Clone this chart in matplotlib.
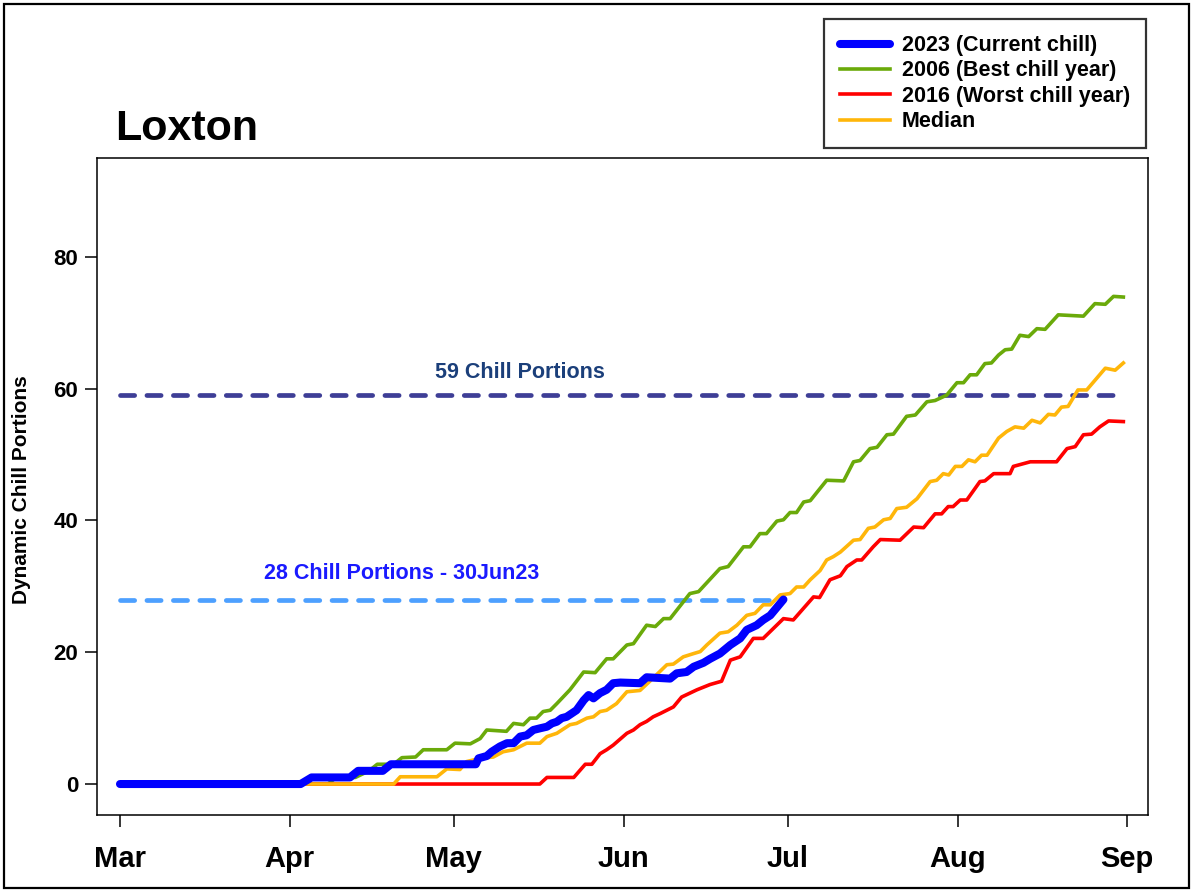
import matplotlib
matplotlib.use("Agg")
import matplotlib.pyplot as plt
from matplotlib.patches import Rectangle

plt.rcParams['font.family'] = ['Liberation Sans', 'DejaVu Sans']
plt.rcParams['font.weight'] = 'bold'

# Days since 1 March
month_days = [0, 31, 61, 92, 122, 153, 184]
month_labels = ["Mar", "Apr", "May", "Jun", "Jul", "Aug", "Sep"]
y_ticks = [0, 20, 40, 60, 80]

cur_days = [0, 33, 35, 42, 43.5, 48, 49.5, 65, 65.5, 67, 67.9, 69.4, 70.7, 71.9, 73.1, 74.3, 75.5,
            76.7, 78, 78.9, 79.8, 80.7, 81.6, 83.4, 84.7, 85.6, 86.5, 87.7, 88.9, 90.1, 91.4, 95,
            96.2, 100.5, 101.7, 103.5, 104.8, 106.6, 107.8, 109.6, 111.5, 113.3, 114.5, 116.3,
            117.5, 118.8, 121.2]
cur_vals = [0, 0, 1, 1, 2, 2, 3, 3, 3.9, 4.25, 4.9, 5.7, 6.2, 6.2, 7.2, 7.4, 8.2, 8.45, 8.7, 9.2,
            9.45, 10.0, 10.2, 11.2, 12.7, 13.5, 13.0, 13.8, 14.3, 15.3, 15.4, 15.3, 16.2, 16.0,
            16.8, 17.0, 17.8, 18.4, 19.0, 19.8, 21.1, 22.1, 23.4, 24.1, 24.9, 25.6, 28.0]

best_days = [0, 38, 39.5, 43, 44.5, 45.5, 47, 50, 51.5, 54, 55.4, 59.7, 61.2, 64.0, 65.8, 67.0,
             70.6, 71.9, 73.7, 74.9, 76.1, 77.3, 78.6, 79.8, 82.2, 84.7, 86.8, 88.9, 90.1, 92.6,
             93.8, 96.2, 97.8, 99.3, 100.5, 104.1, 105.7, 109.6, 111.1, 113.9, 115.1, 116.9,
             118.1, 120.0, 121.2, 122.4, 123.6, 124.9, 126.1, 129.1, 132.2, 134.0, 135.2, 137.0,
             138.3, 140.1, 141.3, 143.7, 145.3, 147.4, 148.9, 151.0, 152.9, 154.1, 155.3, 156.5,
             158.0, 159.2, 160.5, 161.7, 162.9, 164.4, 166.0, 167.5, 169.0, 171.4, 176.0, 178.1,
             180.0, 181.5, 183.3]
best_vals = [0, 0, 1, 1, 1.6, 2, 3, 3, 4, 4.1, 5.2, 5.2, 6.2, 6.1, 6.9, 8.2, 8.0, 9.2, 9.0, 10.0,
             10.0, 11.0, 11.2, 12.2, 14.3, 17.0, 16.9, 19.0, 19.0, 21.1, 21.3, 24.1, 23.9, 25.1,
             25.1, 28.9, 29.2, 32.7, 33.0, 36.0, 36.0, 38.0, 38.0, 39.9, 40.1, 41.2, 41.2, 42.8,
             43.0, 46.1, 46.0, 48.9, 49.1, 50.9, 51.1, 53.0, 53.1, 55.8, 56.0, 58.0, 58.2, 59.0,
             60.9, 60.9, 62.1, 62.1, 63.8, 63.9, 65.1, 65.9, 66.0, 68.1, 67.9, 69.1, 69.0, 71.2,
             71.0, 72.9, 72.8, 74.0, 73.9]

worst_days = [0, 76.7, 78.0, 82.9, 85.0, 86.2, 87.7, 88.9, 90.1, 92.6, 93.8, 95.0, 96.2, 97.4,
              98.7, 101.1, 102.6, 105.4, 107.8, 109.9, 111.5, 113.3, 115.7, 117.5, 121.2, 123.0,
              126.7, 127.8, 129.7, 131.6, 132.8, 134.6, 135.5, 137.6, 138.9, 142.5, 145.0, 146.8,
              148.9, 150.1, 151.3, 152.2, 153.5, 154.7, 157.1, 158.0, 159.6, 162.6, 163.2, 166.3,
              171.1, 173.0, 174.5, 176.0, 177.5, 179.0, 180.6, 183.3]
worst_vals = [0, 0, 1, 1, 3, 3, 4.6, 5.2, 5.9, 7.7, 8.2, 9.0, 9.5, 10.2, 10.7, 11.7, 13.2, 14.3,
              15.1, 15.6, 18.8, 19.3, 22.1, 22.1, 25.1, 24.9, 28.4, 28.3, 31.0, 31.6, 33.0, 34.0,
              34.0, 36.0, 37.1, 37.0, 39.0, 38.9, 41.0, 41.0, 42.1, 42.1, 43.1, 43.1, 45.9, 46.0,
              47.1, 47.1, 48.2, 48.9, 48.9, 50.9, 51.2, 53.0, 53.1, 54.2, 55.1, 55.0]

med_days = [0, 50.0, 51.2, 57.9, 59.7, 62.1, 63.3, 65.8, 68.2, 70.0, 71.9, 74.3, 76.7, 78.0, 79.8,
            82.2, 83.4, 85.3, 86.5, 87.7, 88.9, 90.7, 92.6, 95.0, 96.8, 99.9, 101.1, 102.9, 104.8,
            106.0, 107.2, 109.6, 111.1, 112.7, 114.5, 116.0, 117.5, 118.8, 120.6, 122.4, 123.6,
            124.9, 126.1, 127.9, 129.1, 130.3, 131.6, 134.0, 135.2, 136.7, 137.9, 139.5, 140.7,
            141.9, 143.7, 145.6, 148.0, 149.2, 150.4, 151.4, 152.6, 153.8, 155.0, 156.2, 157.4,
            158.4, 160.5, 162.0, 163.5, 165.1, 166.6, 168.1, 169.6, 170.8, 172.0, 173.2, 175.0,
            176.6, 180.0, 181.8, 183.3]
med_vals = [0, 0, 1.1, 1.1, 2.3, 2.2, 3.4, 3.9, 4.1, 4.9, 5.2, 6.2, 6.2, 7.2, 7.7, 9.0, 9.2, 10.0,
            10.2, 11.0, 11.2, 12.2, 14.0, 14.2, 15.6, 18.1, 18.2, 19.3, 19.8, 20.1, 21.1, 22.9,
            23.1, 24.1, 25.6, 25.9, 27.2, 27.2, 28.7, 28.9, 29.9, 29.9, 31.0, 32.4, 34.0, 34.5,
            35.2, 37.0, 37.1, 38.8, 39.0, 40.1, 40.3, 41.8, 42.0, 43.3, 45.9, 46.1, 47.1, 46.9,
            48.2, 48.2, 49.2, 48.9, 49.9, 49.9, 52.5, 53.5, 54.2, 54.0, 55.2, 54.8, 56.1, 56.0,
            57.2, 57.3, 59.8, 59.8, 63.1, 62.8, 63.9]

target_value = 59
target_span = [0, 182]
current_value = 28
current_span = [0, 121]
target_label = "59 Chill Portions"
current_label = "28 Chill Portions - 30Jun23"

W, H = 1193, 892
fig = plt.figure(figsize=(W / 100, H / 100), dpi=100)
ax = fig.add_axes([97 / W, 1 - 815 / H, (1148 - 97) / W, (815 - 158) / H])

ax.plot(target_span, [target_value] * 2, color='#1c1c84', lw=3.4,
        linestyle=(0, (3.0, 2.6)), dash_capstyle='round', alpha=0.85)
ax.plot(current_span, [current_value] * 2, color='#2e8fff', lw=3.4,
        linestyle=(0, (3.0, 2.6)), dash_capstyle='round', alpha=0.85)

ax.plot(best_days, best_vals, color='#6aaa0a', lw=2.6, label='2006 (Best chill year)',
        solid_joinstyle='round')
ax.plot(worst_days, worst_vals, color='#ff0000', lw=2.6, label='2016 (Worst chill year)',
        solid_joinstyle='round')
ax.plot(med_days, med_vals, color='#ffb60a', lw=2.6, label='Median', solid_joinstyle='round')
ax.plot(cur_days, cur_vals, color='#0000ff', lw=5.8, label='2023 (Current chill)',
        solid_joinstyle='round', solid_capstyle='round')

ax.text(73.1, 62.4, target_label, color='#1b3f7a', fontsize=15.5, fontweight='bold',
        ha='center', va='center')
ax.text(51.5, 32.0, current_label, color='#1a1aff', fontsize=15.5, fontweight='bold',
        ha='center', va='center')

ax.set_xlim(-4.2, 187.8)
ax.set_ylim(-4.7, 95)
ax.set_xticks(month_days)
ax.set_xticklabels(month_labels)
ax.set_yticks(y_ticks)
ax.set_yticklabels([str(v) for v in y_ticks])
ax.tick_params(axis='x', length=8.5, width=1.1, pad=13, labelsize=21)
ax.tick_params(axis='y', length=8.5, width=1.1, pad=5, labelsize=16)
for lab in ax.get_xticklabels() + ax.get_yticklabels():
    lab.set_fontweight('bold')
for s in ax.spines.values():
    s.set_linewidth(1.1)

fig.text(22 / W, 1 - 490 / H, "Dynamic Chill Portions", rotation=90, fontsize=15,
         fontweight='bold', ha='center', va='center')
fig.text(115 / W, 1 - 140 / H, "Loxton", fontsize=31, fontweight='bold', ha='left',
         va='baseline')

handles, labels = ax.get_legend_handles_labels()
order = [3, 0, 1, 2]
leg = fig.legend([handles[i] for i in order], [labels[i] for i in order],
                 loc='upper right', bbox_to_anchor=(1146 / W, 1 - 19 / H),
                 frameon=True, fancybox=False, handlelength=2.3,
                 borderaxespad=0, labelspacing=0.2, borderpad=0.75, handletextpad=0.55,
                 prop={'weight': 'bold', 'size': 15.5})
leg.get_frame().set_edgecolor('black')
leg.get_frame().set_linewidth(1.6)

fig.patches.append(Rectangle((4 / W, 4 / H), 1 - 8 / W, 1 - 8 / H, transform=fig.transFigure,
                             fill=False, edgecolor='black', lw=1.6))

fig.savefig("out.png", dpi=100)
